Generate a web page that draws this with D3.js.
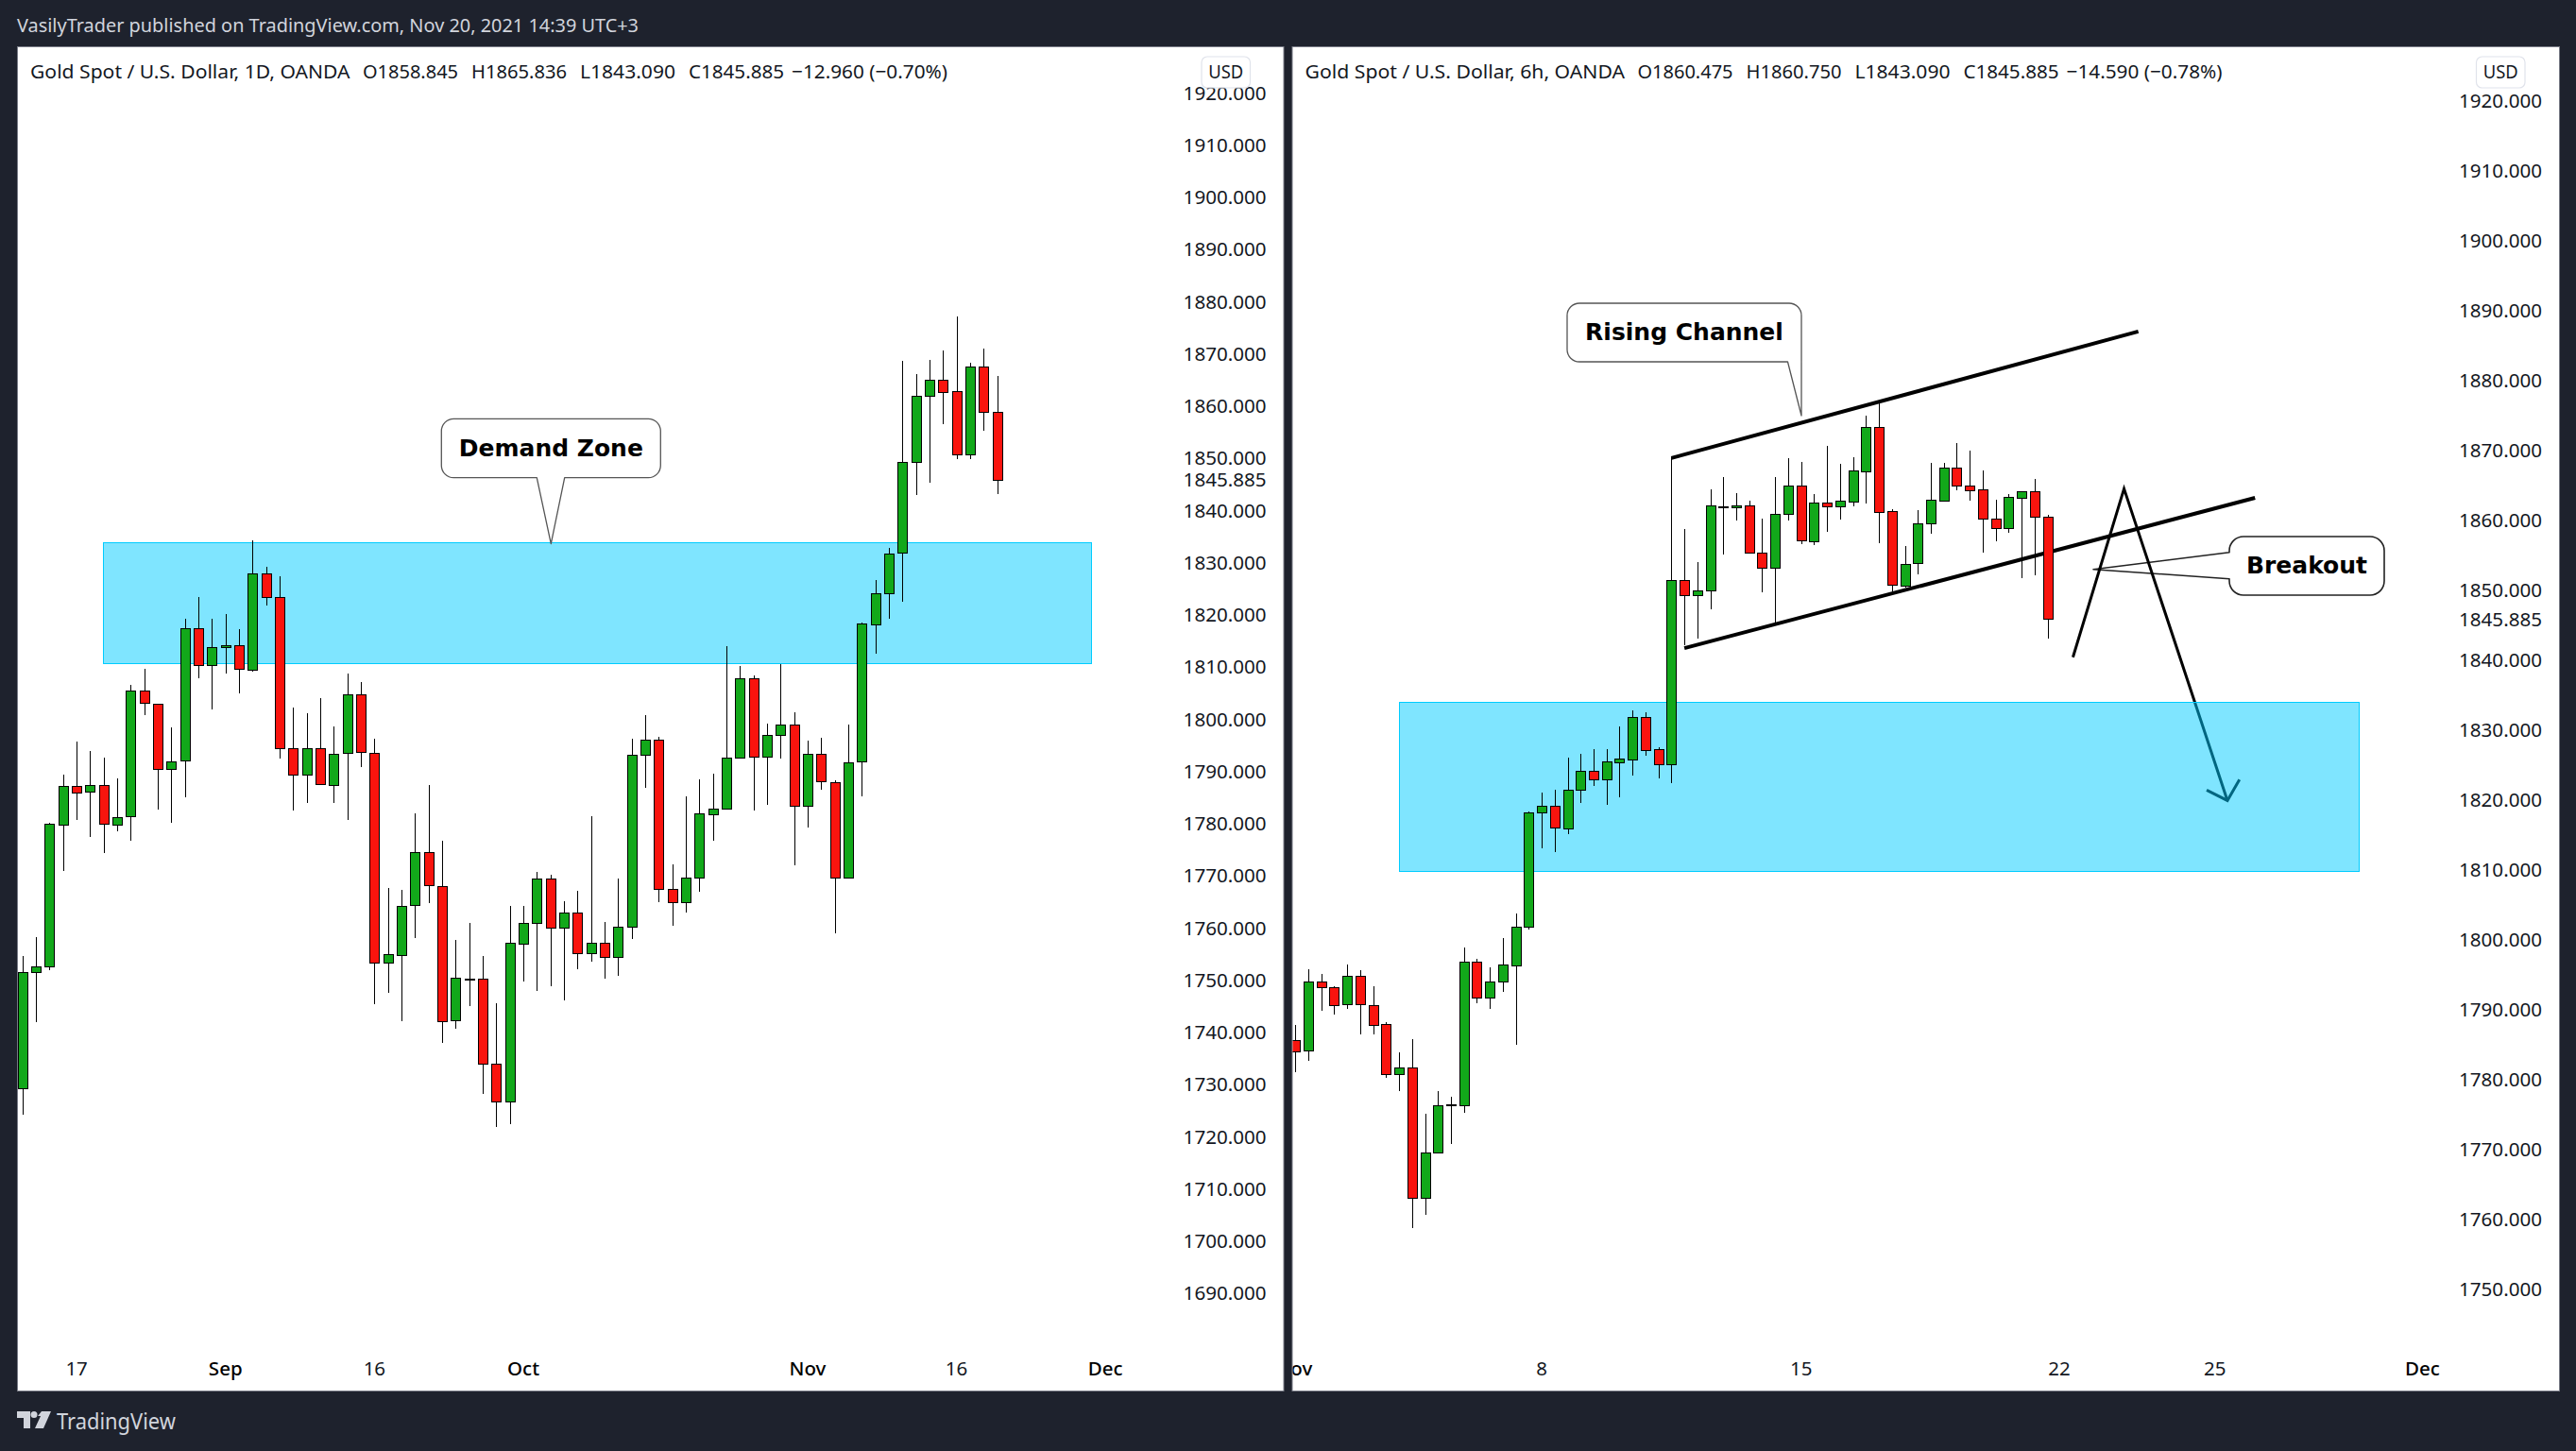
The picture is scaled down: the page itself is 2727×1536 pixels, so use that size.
<!DOCTYPE html>
<html><head><meta charset="utf-8">
<script src="https://cdn.jsdelivr.net/npm/d3@7"></script>
<style>
html,body{margin:0;padding:0;background:#1e222d;overflow:hidden}
svg{display:block}
text{font-family:"Noto Sans",sans-serif}
</style></head><body><svg id="c" width="2727" height="1536"></svg>
<script>
// ---- daily chart, [open, high, low, close]
const dailyOHLC = [
[1729.2,1754.7,1724.3,1751.5],[1751.5,1758.3,1741.9,1752.6],[1752.5,1780.1,1751.9,1779.9],[1779.8,1789.3,1770.9,1787.2],
[1787.2,1795.7,1780.7,1786.0],[1786.0,1793.9,1777.4,1787.3],[1787.3,1792.6,1774.4,1779.8],[1779.8,1788.6,1778.5,1781.3],
[1781.3,1806.6,1776.7,1805.4],[1805.4,1809.6,1800.8,1803.0],[1803.0,1803.0,1782.7,1790.6],[1790.6,1798.5,1780.1,1792.0],
[1792.0,1819.2,1785.0,1817.4],[1817.4,1823.4,1807.8,1810.3],[1810.3,1819.2,1801.9,1813.8],[1813.7,1820.2,1808.7,1814.1],
[1814.1,1817.2,1805.0,1809.5],[1809.5,1834.3,1809.1,1827.9],[1827.9,1829.2,1821.7,1823.3],[1823.4,1827.4,1792.5,1794.4],
[1794.4,1802.2,1782.5,1789.3],[1789.3,1801.1,1784.0,1794.4],[1794.4,1804.0,1787.5,1787.5],[1787.5,1798.6,1784.0,1793.4],
[1793.4,1808.7,1780.7,1804.7],[1804.7,1807.1,1790.9,1793.6],[1793.6,1796.2,1745.4,1753.4],[1753.4,1767.7,1747.6,1755.0],
[1754.9,1767.3,1742.2,1764.3],[1764.3,1782.0,1758.1,1774.5],[1774.5,1787.4,1764.8,1768.1],[1768.1,1776.7,1738.0,1742.2],
[1742.2,1757.7,1740.7,1750.4],[1750.2,1760.9,1745.0,1750.3],[1750.2,1754.7,1728.2,1734.0],[1734.0,1745.6,1721.9,1726.7],
[1726.7,1764.3,1722.4,1757.1],[1757.0,1764.3,1749.7,1760.9],[1760.9,1770.7,1747.9,1769.4],[1769.4,1770.2,1748.8,1760.0],
[1760.0,1765.1,1746.1,1762.9],[1762.9,1767.1,1752.1,1755.2],[1755.2,1781.4,1753.5,1757.2],[1757.2,1761.2,1750.3,1754.4],
[1754.4,1769.5,1750.8,1760.2],[1760.1,1796.2,1757.9,1793.1],[1793.1,1800.8,1786.9,1796.0],[1796.0,1796.6,1764.9,1767.4],
[1767.4,1772.2,1760.4,1764.9],[1764.9,1785.2,1762.9,1769.6],[1769.6,1788.5,1766.9,1781.9],[1781.9,1789.5,1776.7,1782.9],
[1782.9,1814.0,1782.9,1792.6],[1792.6,1810.2,1792.6,1807.8],[1807.8,1808.4,1782.5,1792.8],[1792.8,1799.1,1783.6,1796.9],
[1796.9,1810.6,1792.5,1798.9],[1798.9,1801.3,1772.0,1783.3],[1783.3,1795.9,1779.3,1793.3],[1793.3,1796.5,1786.5,1788.0],
[1788.0,1788.3,1758.9,1769.7],[1769.7,1799.0,1769.7,1791.8],[1791.8,1818.5,1785.2,1818.3],[1818.3,1826.6,1812.6,1824.2],
[1824.2,1832.8,1819.2,1831.8],[1831.8,1868.6,1822.5,1849.2],[1849.2,1866.1,1842.9,1861.9],[1861.9,1868.8,1845.3,1865.0],
[1865.0,1870.6,1856.5,1862.7],[1862.8,1877.2,1849.9,1850.7],[1850.7,1868.2,1849.8,1867.5],[1867.5,1871.0,1855.3,1858.8],
[1858.845,1865.836,1843.09,1845.885]];
// ---- 6h chart
const sixHourOHLC = [
[1785.7,1787.8,1781.0,1784.1],[1784.1,1795.8,1782.7,1794.0],[1794.0,1795.1,1789.8,1793.2],[1793.2,1793.3,1789.3,1790.7],
[1790.7,1796.4,1790.1,1794.8],[1794.8,1795.6,1786.4,1790.7],[1790.7,1793.3,1786.4,1787.9],[1787.9,1788.2,1780.2,1780.7],
[1780.7,1783.9,1778.3,1781.7],[1781.7,1785.8,1758.7,1763.1],[1763.1,1775.1,1760.6,1769.6],[1769.6,1778.3,1769.6,1776.3],
[1776.3,1777.5,1770.8,1776.4],[1776.3,1798.9,1775.2,1796.8],[1796.8,1797.2,1790.9,1791.7],[1791.7,1796.1,1790.1,1794.0],
[1794.0,1800.2,1792.5,1796.4],[1796.4,1803.7,1785.0,1801.9],[1801.9,1818.3,1801.4,1818.2],[1818.1,1821.1,1813.1,1819.1],
[1819.1,1821.5,1812.5,1816.0],[1816.0,1826.1,1815.1,1821.5],[1821.5,1826.6,1819.6,1824.2],[1824.2,1827.3,1822.0,1823.0],
[1823.0,1827.3,1819.3,1825.5],[1825.4,1830.5,1820.4,1825.9],[1825.8,1832.8,1823.5,1831.9],[1831.9,1832.5,1826.3,1827.2],
[1827.2,1827.5,1823.1,1825.1],[1825.1,1869.0,1822.4,1851.5],[1851.5,1858.7,1842.1,1849.4],[1849.3,1854.0,1843.1,1850.0],
[1850.0,1864.4,1847.2,1862.1],[1862.0,1866.2,1855.1,1861.8],[1861.8,1863.9,1860.0,1862.1],[1862.1,1862.8,1855.3,1855.3],
[1855.3,1860.2,1849.7,1853.2],[1853.2,1866.2,1845.3,1860.9],[1860.8,1868.9,1860.0,1864.9],[1864.9,1868.3,1856.6,1857.0],
[1857.0,1863.7,1856.5,1862.5],[1862.5,1870.6,1858.3,1862.0],[1862.0,1868.1,1860.1,1862.8],[1862.7,1869.0,1862.0,1867.1],
[1867.0,1875.0,1862.4,1873.4],[1873.4,1876.8,1856.7,1861.2],[1861.3,1861.6,1849.8,1850.7],[1850.7,1856.3,1850.3,1853.8],
[1853.8,1861.4,1852.2,1859.5],[1859.5,1868.2,1858.1,1862.9],[1862.8,1868.2,1862.6,1867.5],[1867.5,1871.0,1864.3,1865.0],
[1865.0,1870.0,1862.8,1864.3],[1864.4,1867.1,1855.4,1860.2],[1860.2,1862.9,1857.0,1858.8],[1858.8,1863.7,1858.2,1863.3],
[1863.2,1864.2,1851.7,1864.2],[1864.2,1865.9,1852.1,1860.5],[1860.475,1860.75,1843.09,1845.885]];

const dailyPriceTicks = d3.range(1690,1921,10);
const sixHourPriceTicks = d3.range(1750,1921,10);
const lastPrice = 1845.885;
const dailyTimeTicks = [[4,"17"],[15,"Sep"],[26,"16"],[37,"Oct"],[58,"Nov"],[69,"16"],[80,"Dec"]];
const sixHourTimeTicks = [[-0.1,"Nov"],[19,"8"],[39,"15"],[58.9,"22"],[70.9,"25"],[86.9,"Dec"]];
const monthNames = ["Sep","Oct","Nov","Dec"];
const dailyZone = {i0:6,i1:79,p0:1833.8,p1:1810.6};
const sixHourZone = {i0:8,i1:82,p0:1834.0,p1:1809.8};
const channelUpper = [[29,1868.9],[65,1887.0]];
const channelLower = [[30,1841.7],[74,1863.2]];
const projection = [[59.96,1840.4],[63.9,1864.5],[71.87,1819.9]];
const arrowHead = [[70.27,1821.4],[71.87,1819.9],[72.8,1822.9]];
const titleNameDaily = "Gold Spot / U.S. Dollar, 1D, OANDA";
const titleNameSix = "Gold Spot / U.S. Dollar, 6h, OANDA";
const quoteDaily = ["O1858.845","H1865.836","L1843.090","C1845.885"];
const quoteSix = ["O1860.475","H1860.750","L1843.090","C1845.885"];
const changeDaily = "−12.960 (−0.70%)";
const changeSix = "−14.590 (−0.78%)";
const publishLine = "VasilyTrader published on TradingView.com, Nov 20, 2021 14:39 UTC+3";

const svg = d3.select("#c");
const BG="#1e222d",UP="#12a81a",DOWN="#f9140e",INK="#131722";

function callout(parent,x0,y0,x1,y1,r,tip,b0,b1,side,label,stroke,sw){
  const g=parent.append("g");
  let d=`M${x0+r},${y0}H${x1-r}A${r},${r} 0 0 1 ${x1},${y0+r}`;
  if(side==="bottom"){
    if(tip[0]===x1) d+=`L${tip[0]},${tip[1]}L${b0},${y1}`;
    else d+=`V${y1-r}A${r},${r} 0 0 1 ${x1-r},${y1}H${b1}L${tip[0]},${tip[1]}L${b0},${y1}`;
    d+=`H${x0+r}A${r},${r} 0 0 1 ${x0},${y1-r}V${y0+r}A${r},${r} 0 0 1 ${x0+r},${y0}Z`;
  } else {
    d+=`V${y1-r}A${r},${r} 0 0 1 ${x1-r},${y1}H${x0+r}A${r},${r} 0 0 1 ${x0},${y1-r}V${b1}L${tip[0]},${tip[1]}L${x0},${b0}V${y0+r}A${r},${r} 0 0 1 ${x0+r},${y0}Z`;
  }
  g.append("path").attr("d",d).attr("fill","#fff").attr("stroke",stroke).attr("stroke-width",sw).attr("stroke-linejoin","round");
  g.append("text").attr("x",(x0+x1)/2).attr("y",(y0+y1)/2-1).attr("dy","0.36em").attr("text-anchor","middle")
    .attr("font-size",25).attr("font-weight",700).attr("fill","#000").style("font-family","'DejaVu Sans'").text(label);
}

function panel(o){
  const g = svg.append("g");
  const id = "clip"+o.name;
  svg.append("clipPath").attr("id",id).append("rect").attr("x",o.left).attr("y",o.top).attr("width",o.right-o.left).attr("height",o.bottom-o.top);
  g.append("rect").attr("x",o.left-.5).attr("y",o.top-.5).attr("width",o.right-o.left+1).attr("height",o.bottom-o.top+1)
    .attr("fill","#fff").attr("stroke","#787b86").attr("stroke-width",1);
  const x = d3.scaleLinear().domain([0,1]).range([o.x0,o.x0+o.step]);
  const y = d3.scaleLinear().domain([o.refP,o.refP-10]).range([o.refY,o.refY+o.perTen]);
  const plot = g.append("g").attr("clip-path",`url(#${id})`);
  const line = d3.line().x(d=>x(d[0])).y(d=>y(d[1]));
  if(o.draw) o.draw(plot,x,y,line);
  plot.append("rect").attr("x",x(o.zone.i0)).attr("y",y(o.zone.p0))
    .attr("width",x(o.zone.i1)-x(o.zone.i0)).attr("height",y(o.zone.p1)-y(o.zone.p0))
    .attr("fill","#00ccff").attr("fill-opacity",.5).attr("stroke","#00ccff").attr("stroke-width",1).attr("shape-rendering","crispEdges");
  const c = plot.selectAll("g.c").data(o.data).join("g").attr("class","c").attr("shape-rendering","crispEdges");
  const cx = (d,i)=>Math.round(x(i))+.5;
  c.append("line").attr("x1",cx).attr("x2",cx).attr("y1",d=>y(d[1])).attr("y2",d=>y(d[2])).attr("stroke","#000").attr("stroke-width",1);
  c.append("rect").attr("x",(d,i)=>cx(d,i)-5).attr("width",10)
    .attr("y",d=>Math.round(y(Math.max(d[0],d[3])))+.5)
    .attr("height",d=>Math.max(1,Math.round(Math.abs(y(d[0])-y(d[3])))))
    .attr("fill",d=>d[3]>=d[0]?UP:DOWN).attr("stroke","#000").attr("stroke-width",1);
  // price axis
  const prices = o.priceTicks.concat([lastPrice]);
  g.selectAll("text.p").data(prices).join("text").attr("class","p")
    .attr("x",o.labelX).attr("y",d=>y(d)).attr("dy","0.36em")
    .attr("font-size",20.5).attr("fill",INK).attr("textLength",88).attr("lengthAdjust","spacingAndGlyphs")
    .text(d=>d3.format(".3f")(d));
  // time axis
  plot.selectAll("text.t").data(o.timeTicks).join("text").attr("class","t")
    .attr("x",d=>x(d[0])).attr("y",1449).attr("dy","0.36em").attr("text-anchor","middle")
    .attr("font-size",20.5).attr("fill",d=>monthNames.includes(d[1])?"#000":INK)
    .attr("font-weight",d=>monthNames.includes(d[1])?500:400).text(d=>d[1]);
  // title, split the way the reference spaces it
  const titleText=(s,tx,len)=>g.append("text").attr("x",tx).attr("y",76).attr("dy","0.36em").attr("font-size",20.5).attr("fill",INK)
    .attr("textLength",len).attr("lengthAdjust","spacingAndGlyphs").text(s);
  titleText(o.titleName,o.titleX,338.5);
  o.quote.forEach((q,k)=>titleText(q,o.titleX+352+115*k,101));
  titleText(o.change,o.titleX+806,165);
  // currency tag, laid over the top price label
  const b=g.append("g").attr("transform",`translate(${o.usdX},60)`);
  b.append("rect").attr("width",51.5).attr("height",33).attr("rx",6).attr("fill","#fff").attr("fill-opacity",.82).attr("stroke","#e0e3eb").attr("stroke-width",1.2);
  b.append("text").attr("x",25.75).attr("y",16).attr("dy","0.36em").attr("text-anchor","middle").attr("font-size",20)
    .attr("textLength",37).attr("lengthAdjust","spacingAndGlyphs").attr("fill",INK).text("USD");
}

panel({name:"d",left:19,right:1358.5,top:50,bottom:1472,x0:23.8,step:14.33,refP:1880,refY:319.3,perTen:55.25,
  data:dailyOHLC,zone:dailyZone,priceTicks:dailyPriceTicks,timeTicks:dailyTimeTicks,labelX:1252.6,titleName:titleNameDaily,quote:quoteDaily,change:changeDaily,titleX:32,usdX:1272});
panel({name:"h",left:1368.5,right:2709,top:50,bottom:1472,x0:1371.2,step:13.73,refP:1870,refY:476.7,perTen:74,
  data:sixHourOHLC,zone:sixHourZone,priceTicks:sixHourPriceTicks,timeTicks:sixHourTimeTicks,labelX:2603,titleName:titleNameSix,quote:quoteSix,change:changeSix,titleX:1381.5,usdX:2621.5,
  draw(plot,x,y,line){
    [channelUpper,channelLower].forEach(s=>plot.append("path").attr("d",line(s)).attr("fill","none").attr("stroke","#000").attr("stroke-width",4));
    callout(plot,2360,568,2524,630,15,[2216,602.7],584.7,612.7,"left","Breakout","#222",1.6);
    plot.append("path").attr("d",line(projection)).attr("fill","none").attr("stroke","#000").attr("stroke-width",3);
    plot.append("path").attr("d",line(arrowHead)).attr("fill","none").attr("stroke","#000").attr("stroke-width",3);
  }});

// annotations above the candles
callout(svg,467.3,443.3,699.3,505.7,13,[583.3,575.7],568.3,597.7,"bottom","Demand Zone","#555",1.3);
callout(svg,1659,321,1907,383,13,[1907,440],1892.5,1907,"bottom","Rising Channel","#555",1.3);

// header and footer
svg.append("text").attr("x",18).attr("y",27).attr("dy","0.36em").attr("font-size",20).attr("fill","#d1d4dc")
  .attr("textLength",658).attr("lengthAdjust","spacingAndGlyphs").text(publishLine);
svg.append("path").attr("fill","#d1d4dc").attr("d","M18,1494h14v18h-7v-11h-7z M44,1494h10l-8,18h-9l6,-13h-3z");
svg.append("circle").attr("cx",36).attr("cy",1497.5).attr("r",3.5).attr("fill","#d1d4dc");
svg.append("text").attr("x",60).attr("y",1505).attr("dy","0.36em").attr("font-size",23).attr("fill","#d1d4dc")
  .attr("textLength",126).attr("lengthAdjust","spacingAndGlyphs").text("TradingView");
</script></body></html>
